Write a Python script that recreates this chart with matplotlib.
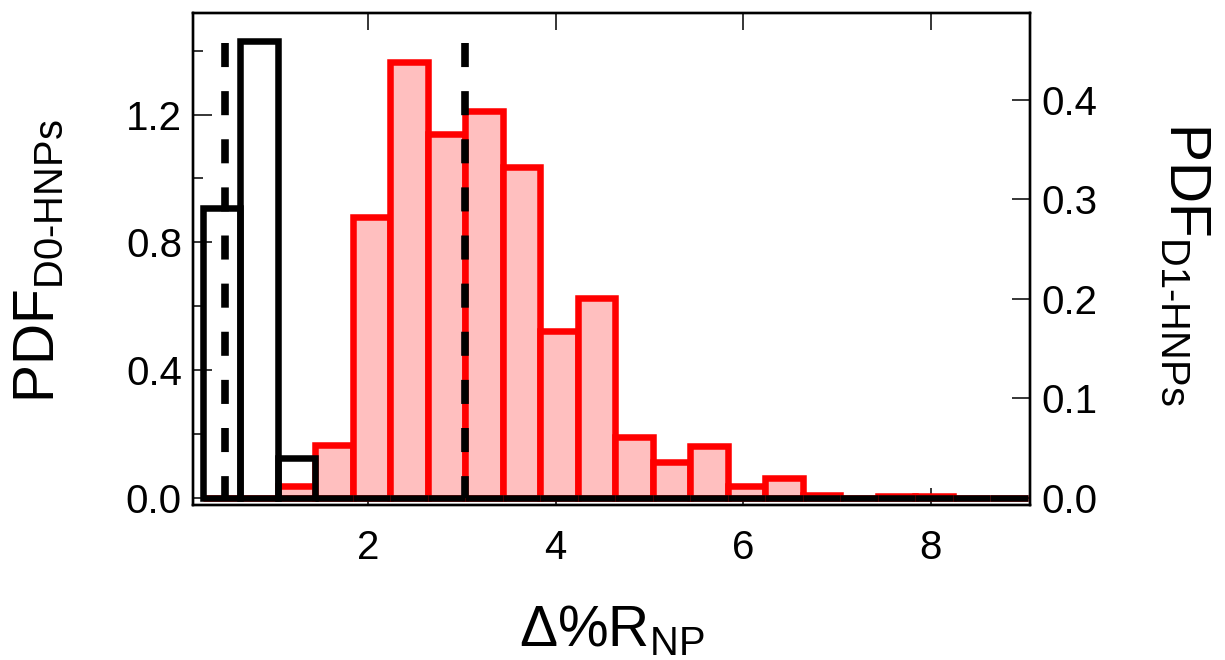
#!/usr/bin/env python
# coding: utf-8

import numpy as np
import matplotlib
matplotlib.use('Agg')
import matplotlib.pyplot as plt
from matplotlib.ticker import MultipleLocator, FormatStrFormatter

plt.rcParams['font.family'] = ['Liberation Sans', 'DejaVu Sans']
plt.rcParams['mathtext.fontset'] = 'custom'
plt.rcParams['mathtext.rm'] = 'Liberation Sans'
plt.rcParams['mathtext.it'] = 'Liberation Sans:italic'
plt.rcParams['mathtext.bf'] = 'Liberation Sans:bold'

# bin edges of both histograms (Δ%R_NP)
bin_edges = [0.235, 0.635, 1.035, 1.435, 1.835, 2.235, 2.635, 3.035, 3.435,
             3.835, 4.235, 4.635, 5.035, 5.435, 5.835, 6.235, 6.635, 7.035,
             7.435, 7.835, 8.235, 8.635, 9.035]

# D0-HNPs, left axis
pdf_d0 = [0.908, 1.430, 0.124, 0, 0, 0, 0, 0, 0, 0, 0,
          0, 0, 0, 0, 0, 0, 0, 0, 0, 0, 0]

# D1-HNPs, right axis
pdf_d1 = [0, 0, 0.012, 0.053, 0.282, 0.438, 0.365, 0.389, 0.332, 0.168, 0.201,
          0.061, 0.0355, 0.052, 0.0114, 0.020, 0.003, 0, 0.002, 0.002, 0, 0]

# dashed reference lines
mean_d0 = 0.47
mean_d1 = 3.03
dash_top = 1.424


def draw():
    fig = plt.figure(figsize=(12.25, 6.6), dpi=100)
    ax = fig.add_axes([193 / 1225, 1 - 505 / 660, 837 / 1225, 492 / 660])
    ax2 = ax.twinx()

    left = np.array(bin_edges[:-1])
    width = np.diff(bin_edges)

    ax2.bar(left, pdf_d1, width=width, align='edge', facecolor='#ffbfbf',
            edgecolor='#ff0000', linewidth=4.7)
    ax.bar(left, pdf_d0, width=width, align='edge', fill=False,
           edgecolor='black', linewidth=4.7)

    for xv in [mean_d0, mean_d1]:
        ax.plot([xv, xv], [dash_top, 0], color='black', lw=5.5,
                dashes=(3.15, 3.15), solid_capstyle='butt')

    # black axis drawn above the red one
    ax.set_zorder(ax2.get_zorder() + 1)
    ax.patch.set_visible(False)

    ax.set_xlim(0.13, 9.06)
    ax.set_ylim(-0.0225, 1.518)
    ax2.set_ylim(-0.0072, 0.487)

    ax.xaxis.set_major_locator(MultipleLocator(2))
    ax.yaxis.set_major_locator(MultipleLocator(0.4))
    ax.yaxis.set_minor_locator(MultipleLocator(0.2))
    ax.yaxis.set_major_formatter(FormatStrFormatter('%.1f'))
    ax2.yaxis.set_major_locator(MultipleLocator(0.1))
    ax2.yaxis.set_major_formatter(FormatStrFormatter('%.1f'))

    ax.tick_params(axis='x', length=0, pad=17, labelsize=29)
    ax.tick_params(axis='y', which='major', direction='in', length=13.7,
                   width=1.1, pad=8, labelsize=29)
    ax.tick_params(axis='y', which='minor', direction='in', length=7,
                   width=1.1)
    ax2.tick_params(axis='y', direction='in', length=13, width=1.1, pad=8,
                    labelsize=29)

    # x ticks live on the red axis so the bars hide them
    ax2.xaxis.set_visible(True)
    ax2.tick_params(axis='x', bottom=True, top=True, labelbottom=False,
                    labeltop=False, direction='in', length=12, width=1.1)
    ax2.set_axisbelow(True)

    for a in [ax, ax2]:
        for s in a.spines.values():
            s.set_linewidth(1.7)

    fig.text(0.0318, 0.6045, r'$\mathrm{PDF}_{\mathrm{D0}\text{-}\mathrm{HNPs}}$',
             rotation=90, ha='center', va='center', fontsize=41)
    fig.text(0.9673, 0.601, r'$\mathrm{PDF}_{\mathrm{D1}\text{-}\mathrm{HNPs}}$',
             rotation=270, ha='center', va='center', fontsize=41)
    fig.text(0.4992, 0.044, r'$\mathrm{\Delta\%R}_{\mathrm{NP}}$',
             ha='center', va='center', fontsize=41)

    fig.savefig('out.png', dpi=100)
    plt.close(fig)


if __name__ == '__main__':
    draw()
